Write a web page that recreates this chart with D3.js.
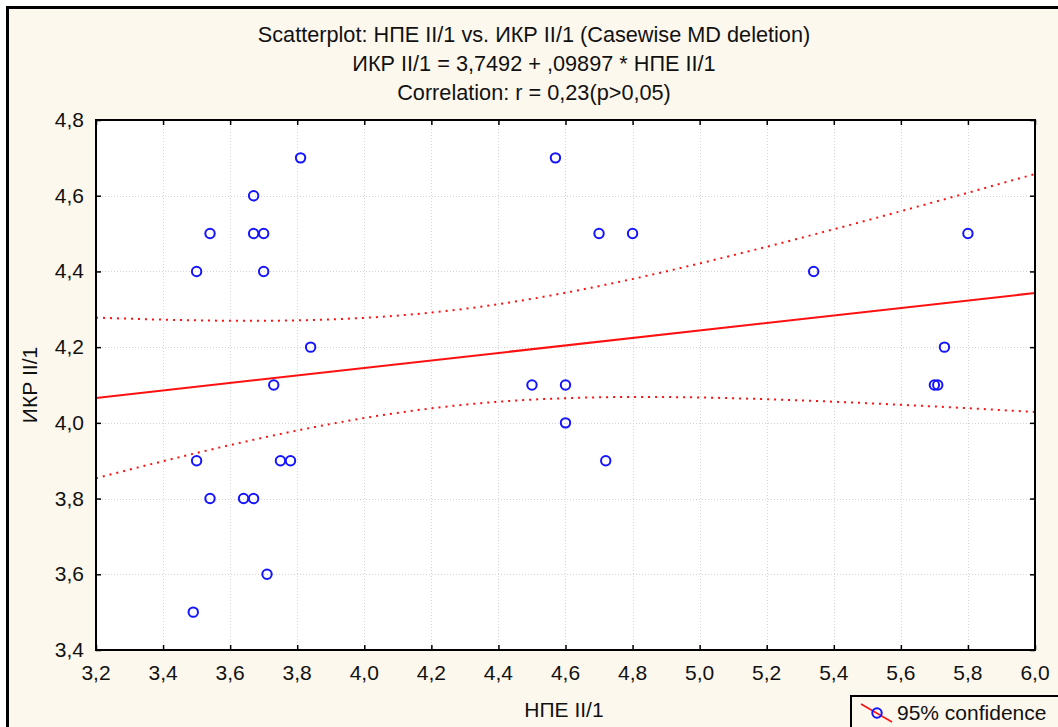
<!DOCTYPE html>
<html>
<head>
<meta charset="utf-8">
<script src="https://cdn.jsdelivr.net/npm/d3@7"></script>
<style>
  html, body { margin: 0; padding: 0; background: #ffffff; }
  svg { display: block; }
  text { font-family: "Liberation Sans", Arial, sans-serif; fill: #111; }
</style>
</head>
<body>
<svg id="chart" width="1058" height="727"></svg>
<script>
// НПЕ II/1 (x) and ИКР II/1 (y) observations
const npe = [3.50, 3.54, 3.67, 3.67, 3.70, 3.70, 3.81, 3.84, 3.73, 3.50,
             3.75, 3.78, 3.54, 3.64, 3.67, 3.71, 3.49,
             4.57, 4.70, 4.80, 4.50, 4.60, 4.60, 4.72,
             5.34, 5.80, 5.73, 5.70, 5.71];
const ikr = [4.4, 4.5, 4.6, 4.5, 4.5, 4.4, 4.7, 4.2, 4.1, 3.9,
             3.9, 3.9, 3.8, 3.8, 3.8, 3.6, 3.5,
             4.7, 4.5, 4.5, 4.1, 4.1, 4.0, 3.9,
             4.4, 4.5, 4.2, 4.1, 4.1];

// Fitted line: ИКР = 3,7492 + ,09897 * НПЕ
const intercept = 3.7492;
const slope = 0.09897;

const xTicks = [3.2, 3.4, 3.6, 3.8, 4.0, 4.2, 4.4, 4.6, 4.8, 5.0, 5.2, 5.4, 5.6, 5.8, 6.0];
const yTicks = [3.4, 3.6, 3.8, 4.0, 4.2, 4.4, 4.6, 4.8];

const titleLines = [
  "Scatterplot: НПЕ II/1 vs. ИКР II/1 (Casewise MD deletion)",
  "ИКР II/1 = 3,7492 + ,09897 * НПЕ II/1",
  "Correlation: r = 0,23(p>0,05)"
];

const fmt = v => d3.format(".1f")(v).replace(".", ",");
const FS = 21;
const TFS = 21.7;

const svg = d3.select("#chart");
const W = 1058, H = 727;
const plot = { left: 96, top: 120, right: 1035, bottom: 650 };

// Panel background and frame
svg.append("rect").attr("x", 0).attr("y", 0).attr("width", W).attr("height", H).attr("fill", "#ffffff");
svg.append("rect").attr("x", 7.5).attr("y", 7.5).attr("width", W + 20).attr("height", H + 20)
  .attr("fill", "#fdf8ee").attr("stroke", "#000").attr("stroke-width", 3);

const x = d3.scaleLinear().domain([3.2, 6.0]).range([plot.left, plot.right]);
const y = d3.scaleLinear().domain([3.4, 4.8]).range([plot.bottom, plot.top]);

// Plot area
svg.append("rect").attr("x", plot.left).attr("y", plot.top)
  .attr("width", plot.right - plot.left).attr("height", plot.bottom - plot.top)
  .attr("fill", "#ffffff");

// Grid
const grid = svg.append("g").attr("stroke", "#d4d4d4").attr("stroke-width", 1)
  .attr("stroke-dasharray", "1,2");
grid.selectAll(".gx").data(xTicks.slice(1, -1)).join("line")
  .attr("x1", d => Math.round(x(d)) + 0.5).attr("x2", d => Math.round(x(d)) + 0.5)
  .attr("y1", plot.top).attr("y2", plot.bottom);
grid.selectAll(".gy").data(yTicks.slice(1, -1)).join("line")
  .attr("y1", d => Math.round(y(d)) + 0.5).attr("y2", d => Math.round(y(d)) + 0.5)
  .attr("x1", plot.left).attr("x2", plot.right);

// Confidence band for the fitted line (mean response, 95%)
const n = npe.length;
const xbar = d3.mean(npe);
const sxx = d3.sum(npe, v => (v - xbar) ** 2);
const sse = d3.sum(npe, (v, i) => (ikr[i] - (intercept + slope * v)) ** 2);
const s = Math.sqrt(sse / (n - 2));
const tCrit = 2.052;
const xs = d3.range(0, 201).map(i => 3.2 + 2.8 * i / 200);
const half = v => tCrit * s * Math.sqrt(1 / n + (v - xbar) ** 2 / sxx);
const fit = v => intercept + slope * v;

svg.append("clipPath").attr("id", "plotclip").append("rect")
  .attr("x", plot.left).attr("y", plot.top)
  .attr("width", plot.right - plot.left).attr("height", plot.bottom - plot.top);

const lineGen = d3.line().x(d => x(d[0])).y(d => y(d[1]));
const gLines = svg.append("g").attr("clip-path", "url(#plotclip)");
[1, -1].forEach(sign => {
  gLines.append("path")
    .attr("d", lineGen(xs.map(v => [v, fit(v) + sign * half(v)])))
    .attr("fill", "none").attr("stroke", "#ff1010").attr("stroke-width", 2)
    .attr("stroke-dasharray", "2,5");
});
gLines.append("path")
  .attr("d", lineGen([[3.2, fit(3.2)], [6.0, fit(6.0)]]))
  .attr("fill", "none").attr("stroke", "#ff1010").attr("stroke-width", 2);

// Points
svg.append("g").selectAll("circle").data(npe).join("circle")
  .attr("cx", d => x(d)).attr("cy", (d, i) => y(ikr[i]))
  .attr("r", 4.7).attr("fill", "none").attr("stroke", "#1414ff").attr("stroke-width", 2);

// Axes with inward ticks on all four sides
const tl = 5;
svg.append("g").attr("transform", `translate(0,${plot.bottom})`)
  .call(d3.axisTop(x).tickValues(xTicks).tickSize(tl).tickFormat(""))
  .call(g => g.select(".domain").remove());
svg.append("g").attr("transform", `translate(0,${plot.top})`)
  .call(d3.axisBottom(x).tickValues(xTicks).tickSize(tl).tickFormat(""))
  .call(g => g.select(".domain").remove());
svg.append("g").attr("transform", `translate(${plot.left},0)`)
  .call(d3.axisRight(y).tickValues(yTicks).tickSize(tl).tickFormat(""))
  .call(g => g.select(".domain").remove());
svg.append("g").attr("transform", `translate(${plot.right},0)`)
  .call(d3.axisLeft(y).tickValues(yTicks).tickSize(tl).tickFormat(""))
  .call(g => g.select(".domain").remove());
svg.selectAll(".tick line").attr("stroke", "#000").attr("stroke-width", 1.5);

svg.append("rect").attr("x", plot.left).attr("y", plot.top)
  .attr("width", plot.right - plot.left).attr("height", plot.bottom - plot.top)
  .attr("fill", "none").attr("stroke", "#000").attr("stroke-width", 2);

// Tick labels
svg.append("g").selectAll("text").data(xTicks).join("text")
  .attr("x", d => x(d)).attr("y", 680)
  .attr("text-anchor", "middle").attr("font-size", FS).text(fmt);
svg.append("g").selectAll("text").data(yTicks).join("text")
  .attr("x", 84).attr("y", d => y(d) + 7)
  .attr("text-anchor", "end").attr("font-size", FS).text(fmt);

// Titles
svg.append("g").selectAll("text").data(titleLines).join("text")
  .attr("x", 534).attr("y", (d, i) => 42 + i * 29)
  .attr("text-anchor", "middle").attr("font-size", TFS).text(d => d);

// Axis titles
svg.append("text").attr("x", 564).attr("y", 717).attr("text-anchor", "middle")
  .attr("font-size", FS).text("НПЕ II/1");
svg.append("text").attr("transform", "translate(37,385) rotate(-90)")
  .attr("text-anchor", "middle").attr("font-size", FS).text("ИКР II/1");

// Legend
const lg = svg.append("g");
lg.append("rect").attr("x", 851).attr("y", 696).attr("width", 240).attr("height", 60)
  .attr("fill", "#fdf8ee").attr("stroke", "#000").attr("stroke-width", 2);
lg.append("line").attr("x1", 861).attr("y1", 704).attr("x2", 892).attr("y2", 722)
  .attr("stroke", "#ff1010").attr("stroke-width", 1.5);
lg.append("circle").attr("cx", 877).attr("cy", 713).attr("r", 4.7)
  .attr("fill", "none").attr("stroke", "#1414ff").attr("stroke-width", 2);
lg.append("text").attr("x", 897).attr("y", 720).attr("font-size", FS).text("95% confidence");
</script>
</body>
</html>
